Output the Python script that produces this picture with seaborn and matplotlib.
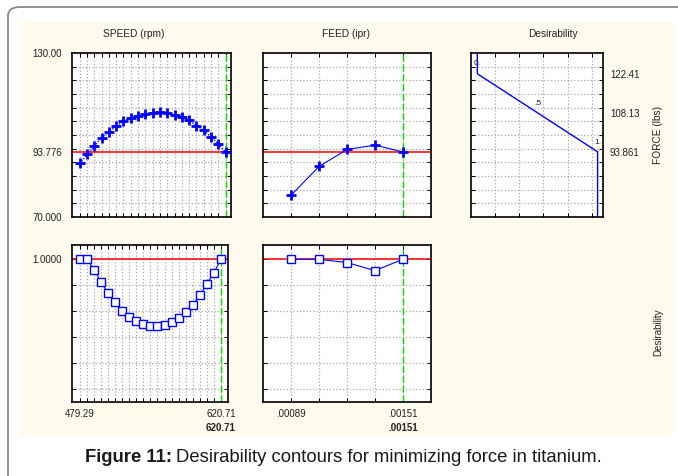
import numpy as np
import pandas as pd
import matplotlib
matplotlib.use("Agg")
import matplotlib.pyplot as plt
import seaborn as sns
from matplotlib.patches import FancyBboxPatch, Rectangle

# ---------------- data ----------------
speed = [479.29, 486.36, 493.43, 500.50, 507.58, 514.65, 521.72, 528.79, 535.86,
         542.93, 550.00, 557.07, 564.14, 571.21, 578.28, 585.36, 592.43, 599.50,
         606.57, 613.64, 620.71]
force_speed = [89.6, 92.9, 95.9, 99.0, 101.2, 103.2, 105.0, 106.3, 107.1, 107.8,
               108.2, 108.3, 107.9, 107.4, 106.5, 105.4, 103.4, 101.7, 99.3, 96.7, 93.8]
desir_speed = [1.0, 1.0, 0.92, 0.826, 0.738, 0.669, 0.605, 0.559, 0.528, 0.503,
               0.487, 0.487, 0.495, 0.521, 0.551, 0.597, 0.651, 0.723, 0.810, 0.897, 1.0]

feed = [0.00089, 0.001045, 0.0012, 0.001355, 0.00151]
force_feed = [78.0, 88.5, 94.7, 96.3, 93.8]
desir_feed = [1.0, 1.0, 0.975, 0.913, 1.0]

desir_curve_d = [0.0, 0.0, 1.0, 1.0]
desir_curve_f = [130.0, 122.41, 93.861, 70.0]

force_ref = 93.776
speed_opt = 620.71
feed_opt = 0.00151

speed_ticklabels = ["479.29", "620.71"]
feed_ticklabels = [".00089", ".00151"]
force_ticklabels = ["130.00", "93.776", "70.000"]
force_ticks = [130.0, 93.776, 70.0]
desir_right_ticks = [122.41, 108.13, 93.861]
desir_right_labels = ["122.41", "108.13", "93.861"]

# ---------------- figure ----------------
sns.set_style("white")
plt.rcParams['font.family'] = ['Liberation Sans', 'DejaVu Sans']

W, H = 678, 476
fig = plt.figure(figsize=(W / 100, H / 100), dpi=100)
fig.patch.set_facecolor("white")

def fx(px):
    return px / W

def fy(py):
    return 1 - py / H

# outer rounded border and cream background
border = FancyBboxPatch((fx(8), fy(520)), fx(720), (520 - 7) / H,
                        boxstyle="round,pad=0,rounding_size=0.018",
                        transform=fig.transFigure, facecolor="white",
                        edgecolor="#8a8a8a", linewidth=1.3, zorder=-2)
fig.patches.append(border)
cream = Rectangle((fx(20), fy(436.5)), fx(672.5 - 20), (436.5 - 21.5) / H,
                  transform=fig.transFigure, facecolor="#fffaee",
                  edgecolor="none", zorder=-1)
fig.patches.append(cream)

def make_ax(l, r, t, b):
    return fig.add_axes([fx(l), fy(b), fx(r - l), (b - t) / H])

ax1 = make_ax(71.7, 231.0, 53, 217)
ax2 = make_ax(263.3, 430.7, 53, 217)
ax3 = make_ax(471.0, 603.0, 53, 217)
ax4 = make_ax(71.7, 227.5, 245, 402.3)
ax5 = make_ax(263.3, 430.7, 245, 402.3)

force_grid = [75, 80, 85, 90, 95, 100, 105, 110, 115, 120, 125]
desir_grid = [0.0, 0.2, 0.4, 0.6, 0.8, 1.0]
desir_x_grid = [0.15, 0.35, 0.55, 0.75, 0.95]

def style(ax, xgrid, ygrid):
    ax.set_facecolor("white")
    ax.xaxis.remove_overlapping_locs = False
    ax.yaxis.remove_overlapping_locs = False
    ax.set_xticks(xgrid, minor=True)
    ax.set_yticks(ygrid, minor=True)
    ax.tick_params(which='minor', direction='in', length=3, width=0.7,
                   top=True, right=True, bottom=True, left=True, color='black')
    ax.grid(which='minor', linestyle=':', color='#a8a8a8', linewidth=0.9)
    ax.grid(which='major', visible=False)
    ax.tick_params(which='major', length=0, labelsize=7, colors='#222222', pad=7)
    ax.set_xticks([])
    ax.set_yticks([])
    for s in ax.spines.values():
        s.set_color('black')
        s.set_linewidth(1.2)
    ax.set_xlabel("")
    ax.set_ylabel("")

blue = "#0000ff"
green = "#00e000"
red = "#ff0000"

# ---- top-left: force vs speed ----
df1 = pd.DataFrame({"speed": speed, "force": force_speed})
ax1.axhline(force_ref, color=red, lw=1.1, zorder=2)
ax1.axvline(speed_opt, color=green, lw=1.0, ls=(0, (5, 2)), zorder=2)
sns.lineplot(data=df1, x="speed", y="force", ax=ax1, color=blue, lw=0.8,
             ls=(0, (1.5, 1)), marker='+', markersize=6.5, markeredgewidth=2,
             markeredgecolor=blue, zorder=3)
ax1.set_xlim(471.5, 626.0)
ax1.set_ylim(70, 130)
style(ax1, speed, force_grid)
ax1.set_yticks(force_ticks)
ax1.set_yticklabels(force_ticklabels)

# ---- top-middle: force vs feed ----
df2 = pd.DataFrame({"feed": feed, "force": force_feed})
ax2.axhline(force_ref, color=red, lw=1.1, zorder=2)
ax2.axvline(feed_opt, color=green, lw=1.0, ls=(0, (5, 2)), zorder=2)
sns.lineplot(data=df2, x="feed", y="force", ax=ax2, color=blue, lw=0.8,
             marker='+', markersize=6.5, markeredgewidth=2,
             markeredgecolor=blue, zorder=3)
ax2.set_xlim(0.000735, 0.001665)
ax2.set_ylim(70, 130)
style(ax2, feed, force_grid)

# ---- top-right: desirability function ----
df3 = pd.DataFrame({"d": desir_curve_d, "f": desir_curve_f})
sns.lineplot(data=df3, x="d", y="f", ax=ax3, color=blue, lw=1.0, sort=False,
             estimator=None, zorder=3)
ax3.set_xlim(-0.0525, 1.045)
ax3.set_ylim(70, 130)
style(ax3, desir_x_grid, force_grid)
ax3.yaxis.tick_right()
ax3.set_yticks(desir_right_ticks)
ax3.set_yticklabels(desir_right_labels)
ax3.tick_params(which='major', right=True, left=False, length=0, pad=5,
                labelsize=7, colors='#222222')
ax3.tick_params(which='minor', left=True, right=True)
for xd, yv, lab in [(0.0, 126.2, "0."), (0.5, 111.5, ".5"), (1.0, 97.2, "1.")]:
    ax3.text(xd, yv, lab, fontsize=6, ha='center', va='center', color='#222222', zorder=4)

# ---- bottom-left: desirability vs speed ----
df4 = pd.DataFrame({"speed": speed, "d": desir_speed})
ax4.axhline(1.0, color=red, lw=1.1, zorder=2)
ax4.axvline(speed_opt, color=green, lw=1.0, ls=(0, (5, 2)), zorder=2)
sns.lineplot(data=df4, x="speed", y="d", ax=ax4, color=blue, lw=0.8,
             marker='s', markersize=5.5, markerfacecolor='white',
             markeredgecolor=blue, markeredgewidth=1.0, zorder=3)
ax4.set_xlim(471.0, 627.3)
ax4.set_ylim(-0.1, 1.11)
style(ax4, speed, desir_grid)
ax4.set_yticks([1.0])
ax4.set_yticklabels(["1.0000"])
ax4.set_xticks([speed[0], speed[-1]])
ax4.set_xticklabels(speed_ticklabels)
ax4.tick_params(which='major', axis='x', pad=5)
ax4.text(speed_opt, -0.295, "620.71", fontsize=7, fontweight='bold', ha='center',
         va='center', color='#222222', transform=ax4.transData)

# ---- bottom-middle: desirability vs feed ----
df5 = pd.DataFrame({"feed": feed, "d": desir_feed})
ax5.axhline(1.0, color=red, lw=1.1, zorder=2)
ax5.axvline(feed_opt, color=green, lw=1.0, ls=(0, (5, 2)), zorder=2)
sns.lineplot(data=df5, x="feed", y="d", ax=ax5, color=blue, lw=0.8,
             marker='s', markersize=5.5, markerfacecolor='white',
             markeredgecolor=blue, markeredgewidth=1.0, zorder=3)
ax5.set_xlim(0.000735, 0.001665)
ax5.set_ylim(-0.1, 1.11)
style(ax5, feed, desir_grid)
ax5.set_xticks([feed[0], feed[-1]])
ax5.set_xticklabels(feed_ticklabels)
ax5.tick_params(which='major', axis='x', pad=5)
ax5.text(feed_opt, -0.295, ".00151", fontsize=7, fontweight='bold', ha='center',
         va='center', color='#222222', transform=ax5.transData)

# ---- titles and side labels ----
fig.text(fx(133.5), fy(34), "SPEED (rpm)", fontsize=7.3, ha='center', va='center', color='#222222')
fig.text(fx(346), fy(34), "FEED (ipr)", fontsize=7.3, ha='center', va='center', color='#222222')
fig.text(fx(553), fy(34), "Desirability", fontsize=7.3, ha='center', va='center', color='#222222')
fig.text(fx(658), fy(135), "FORCE (lbs)", fontsize=7.3, ha='center', va='center',
         rotation=90, color='#222222')
fig.text(fx(658), fy(332), "Desirability", fontsize=7, ha='center', va='center',
         rotation=90, color='#222222')

# ---- caption ----
t1 = fig.text(fx(85), fy(458), "Figure 11:", fontsize=13.3, fontweight='bold',
              ha='left', va='center', color='#1a1a1a')
fig.canvas.draw()
bb = t1.get_window_extent()
fig.text(bb.x1 / W + fx(4), fy(458), "Desirability contours for minimizing force in titanium.",
         fontsize=13.3, ha='left', va='center', color='#1a1a1a')

fig.savefig("out.png", dpi=100, facecolor="white")
